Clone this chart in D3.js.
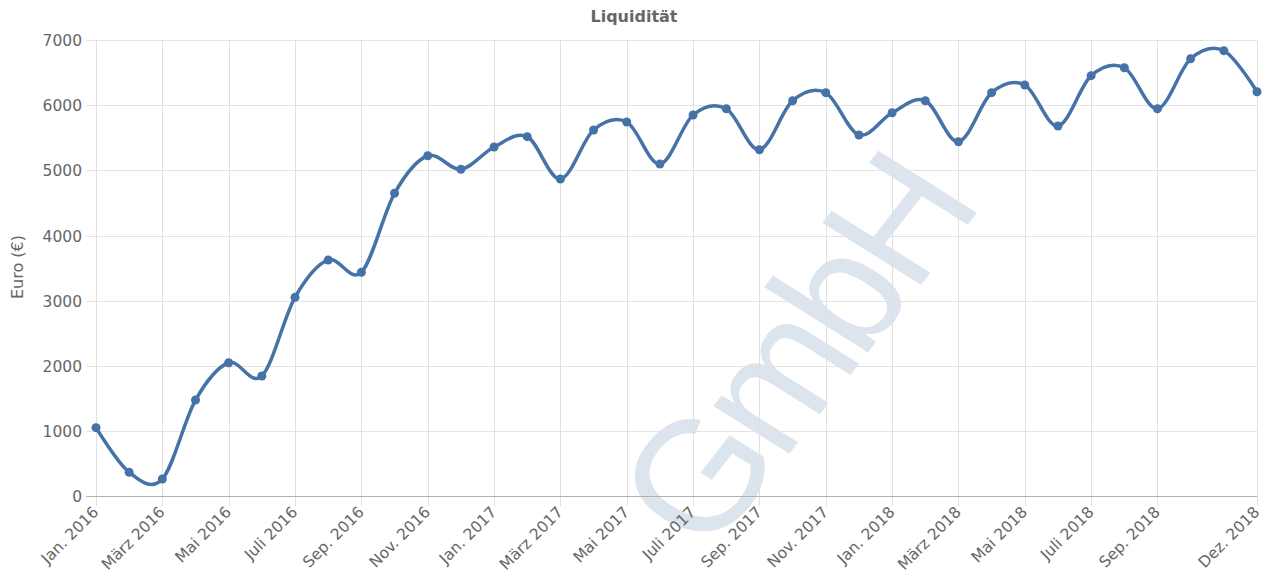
<!DOCTYPE html>
<html>
<head>
<meta charset="utf-8">
<script src="https://cdn.jsdelivr.net/npm/d3@7"></script>
<style>
  body { margin: 0; background: #fff; }
  svg { display: block; font-family: "DejaVu Sans", Verdana, sans-serif; }
</style>
</head>
<body>
<div id="chart"></div>
<script>
// Monthly categories, Jan 2016 - Dez 2018
let months = [
  "Jan. 2016", "Feb. 2016", "März 2016", "Apr. 2016", "Mai 2016", "Juni 2016",
  "Juli 2016", "Aug. 2016", "Sep. 2016", "Okt. 2016", "Nov. 2016", "Dez. 2016",
  "Jan. 2017", "Feb. 2017", "März 2017", "Apr. 2017", "Mai 2017", "Juni 2017",
  "Juli 2017", "Aug. 2017", "Sep. 2017", "Okt. 2017", "Nov. 2017", "Dez. 2017",
  "Jan. 2018", "Feb. 2018", "März 2018", "Apr. 2018", "Mai 2018", "Juni 2018",
  "Juli 2018", "Aug. 2018", "Sep. 2018", "Okt. 2018", "Nov. 2018", "Dez. 2018"
];

// Liquidität in Euro, one value per month
let liquiditaet = [
  1054, 370, 267, 1478, 2050, 1847, 3053, 3626, 3437, 4649, 5225, 5017,
  5359, 5517, 4868, 5620, 5742, 5098, 5850, 5946, 5317, 6069, 6192, 5543,
  5885, 6069, 5440, 6192, 6310, 5681, 6453, 6575, 5946, 6713, 6836, 6207
];

// Labelled months on the x axis
let tickMonths = [
  "Jan. 2016", "März 2016", "Mai 2016", "Juli 2016", "Sep. 2016", "Nov. 2016",
  "Jan. 2017", "März 2017", "Mai 2017", "Juli 2017", "Sep. 2017", "Nov. 2017",
  "Jan. 2018", "März 2018", "Mai 2018", "Juli 2018", "Sep. 2018", "Dez. 2018"
];

let yTicks = [0, 1000, 2000, 3000, 4000, 5000, 6000, 7000];

let width = 1265;
let height = 578;
let lineColor = "#4572A7";

let svg = d3.select("#chart").append("svg")
  .attr("width", width)
  .attr("height", height);

let x = d3.scalePoint()
  .domain(months)
  .range([96, 1257]);

let y = d3.scaleLinear()
  .domain([0, 7000])
  .range([496.4, 40]);

// Watermark (rotated and slightly stretched, as in the original)
svg.append("text")
  .attr("transform", "translate(793,350) scale(1.115,1) rotate(-55)")
  .attr("text-anchor", "middle")
  .attr("dy", "0.36em")
  .attr("letter-spacing", "-7px")
  .attr("font-family", "Liberation Sans, Arial, sans-serif")
  .attr("font-size", "157px")
  .attr("fill", lineColor)
  .attr("fill-opacity", 0.19)
  .text("GmbH");

// Horizontal grid
svg.append("g")
  .selectAll("line")
  .data(yTicks.slice(1))
  .enter()
  .append("line")
  .attr("x1", 86)
  .attr("x2", 1257)
  .attr("y1", d => Math.round(y(d)) + 0.5)
  .attr("y2", d => Math.round(y(d)) + 0.5)
  .attr("stroke", "#e3e3e3")
  .attr("stroke-width", 1);

// Vertical grid
svg.append("g")
  .selectAll("line")
  .data(tickMonths)
  .enter()
  .append("line")
  .attr("x1", d => Math.round(x(d)) + 0.5)
  .attr("x2", d => Math.round(x(d)) + 0.5)
  .attr("y1", 40)
  .attr("y2", 506)
  .attr("stroke", "#e0e0e0")
  .attr("stroke-width", 1);

// X axis
let xAxis = d3.axisBottom(x)
  .tickValues(tickMonths)
  .tickSize(0)
  .tickPadding(0);

let xGroup = svg.append("g")
  .attr("transform", "translate(0," + 496 + ")")
  .call(xAxis);

xGroup.select(".domain")
  .attr("d", "M86,0.5H1257")
  .attr("stroke", "#b0b0b0");

xGroup.selectAll(".tick text")
  .attr("fill", "#666")
  .attr("font-size", "15.5px")
  .attr("font-family", "DejaVu Sans, sans-serif")
  .attr("text-anchor", "end")
  .attr("y", 0)
  .attr("dy", 0)
  .attr("transform", "translate(3,17) rotate(-45)");

// Y axis
let yAxis = d3.axisLeft(y)
  .tickValues(yTicks)
  .tickFormat(d3.format("d"))
  .tickSize(0)
  .tickPadding(0);

let yGroup = svg.append("g")
  .attr("transform", "translate(82,0)")
  .call(yAxis);

yGroup.select(".domain").remove();

yGroup.selectAll(".tick text")
  .attr("fill", "#666")
  .attr("font-size", "15.5px")
  .attr("font-family", "DejaVu Sans, sans-serif")
  .attr("dy", "0.36em");

// Axis title
svg.append("text")
  .attr("transform", "translate(23,267) rotate(-90)")
  .attr("text-anchor", "middle")
  .attr("font-size", "16px")
  .attr("fill", "#666")
  .text("Euro (€)");

// Chart title
svg.append("text")
  .attr("x", 634)
  .attr("y", 22)
  .attr("text-anchor", "middle")
  .attr("font-size", "16px")
  .attr("font-weight", "bold")
  .attr("fill", "#666")
  .text("Liquidität");

// Spline
let line = d3.line()
  .x((d, i) => x(months[i]))
  .y(d => y(d))
  .curve(d3.curveCardinal.tension(0));

svg.append("path")
  .datum(liquiditaet)
  .attr("d", line)
  .attr("fill", "none")
  .attr("stroke", lineColor)
  .attr("stroke-width", 3.5)
  .attr("stroke-linejoin", "round");

svg.append("g")
  .selectAll("circle")
  .data(liquiditaet)
  .enter()
  .append("circle")
  .attr("cx", (d, i) => x(months[i]))
  .attr("cy", d => y(d))
  .attr("r", 4.5)
  .attr("fill", lineColor);
</script>
</body>
</html>
